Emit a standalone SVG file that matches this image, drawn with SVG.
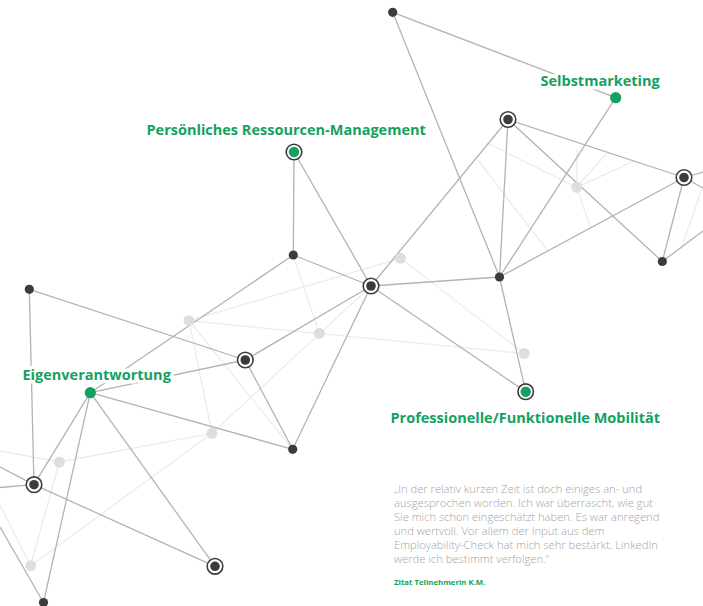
<svg xmlns="http://www.w3.org/2000/svg" width="703" height="606" viewBox="0 0 703 606">
<style>
.bg{fill:#ffffff}
.ln{stroke:#b3b3b3;stroke-width:1.3;fill:none}
.fl{stroke:#ececec;stroke-width:1.3;fill:none}
.dot{fill:#3c3c3c}
.ring{fill:#ffffff;stroke:#3c3c3c;stroke-width:1.6}
.fdot{fill:#dedede}
.gdot{fill:#16a060}
.lbl{font-family:"Open Sans","Noto Sans","Liberation Sans",sans-serif;font-weight:700;font-size:14.5px;fill:#16a060;stroke:#ffffff;stroke-width:7;paint-order:stroke;stroke-linejoin:round}
.q{font-family:"Open Sans","Noto Sans","Liberation Sans",sans-serif;font-weight:300;font-size:11.2px;fill:#a4a4a4}
.src{font-family:"Open Sans","Noto Sans","Liberation Sans",sans-serif;font-weight:700;font-size:7.8px;fill:#16a060}
</style>
<rect class="bg" x="0" y="0" width="703" height="606"/>
<g id="faint-connectors">
<line class="fl" x1="189" y1="320.7" x2="524.3" y2="353.5"/>
<line class="fl" x1="189" y1="320.7" x2="400.5" y2="258.3"/>
<line class="fl" x1="189" y1="320.7" x2="212" y2="433.3"/>
<line class="fl" x1="189" y1="320.7" x2="292.7" y2="449.3"/>
<line class="fl" x1="293.3" y1="255" x2="319.3" y2="333.3"/>
<line class="fl" x1="371" y1="286" x2="212" y2="433.3"/>
<line class="fl" x1="400.5" y1="258.3" x2="524.3" y2="353.5"/>
<line class="fl" x1="212" y1="433.3" x2="59.3" y2="462"/>
<line class="fl" x1="212" y1="433.3" x2="30.7" y2="565.7"/>
<line class="fl" x1="59.3" y1="462" x2="30.7" y2="565.7"/>
<line class="fl" x1="0" y1="451" x2="59.3" y2="462"/>
<line class="fl" x1="0" y1="505" x2="30.7" y2="565.7"/>
<line class="fl" x1="487" y1="143" x2="576.7" y2="187.3"/>
<line class="fl" x1="577" y1="150" x2="576.7" y2="187.3"/>
<line class="fl" x1="607" y1="153" x2="576.7" y2="187.3"/>
<line class="fl" x1="634" y1="161" x2="576.7" y2="187.3"/>
<line class="fl" x1="590" y1="227" x2="576.7" y2="187.3"/>
<line class="fl" x1="478" y1="160" x2="547" y2="250"/>
<line class="fl" x1="703" y1="186" x2="681" y2="249"/>
</g>
<g id="connectors">
<line class="ln" x1="392.7" y1="12.3" x2="499.5" y2="277"/>
<line class="ln" x1="392.7" y1="12.3" x2="615.7" y2="97.7"/>
<line class="ln" x1="508" y1="119.5" x2="499.5" y2="277"/>
<line class="ln" x1="508" y1="119.5" x2="371" y2="286"/>
<line class="ln" x1="508" y1="119.5" x2="684" y2="177.5"/>
<line class="ln" x1="508" y1="119.5" x2="662.3" y2="261.5"/>
<line class="ln" x1="615.7" y1="97.7" x2="499.5" y2="277"/>
<line class="ln" x1="499.5" y1="277" x2="684" y2="177.5"/>
<line class="ln" x1="684" y1="177.5" x2="662.3" y2="261.5"/>
<line class="ln" x1="684" y1="177.5" x2="703" y2="172"/>
<line class="ln" x1="684" y1="177.5" x2="703" y2="188"/>
<line class="ln" x1="662.3" y1="261.5" x2="703" y2="231"/>
<line class="ln" x1="499.5" y1="277" x2="371" y2="286"/>
<line class="ln" x1="499.5" y1="277" x2="525.7" y2="391.7"/>
<line class="ln" x1="371" y1="286" x2="525.7" y2="391.7"/>
<line class="ln" x1="294" y1="152" x2="293.3" y2="255"/>
<line class="ln" x1="294" y1="152" x2="371" y2="286"/>
<line class="ln" x1="293.3" y1="255" x2="371" y2="286"/>
<line class="ln" x1="293.3" y1="255" x2="90.3" y2="392.7"/>
<line class="ln" x1="371" y1="286" x2="245.3" y2="360"/>
<line class="ln" x1="371" y1="286" x2="292.7" y2="449.3"/>
<line class="ln" x1="29.3" y1="289.3" x2="245.3" y2="360"/>
<line class="ln" x1="29.3" y1="289.3" x2="34" y2="484.7"/>
<line class="ln" x1="245.3" y1="360" x2="90.3" y2="392.7"/>
<line class="ln" x1="245.3" y1="360" x2="292.7" y2="449.3"/>
<line class="ln" x1="90.3" y1="392.7" x2="292.7" y2="449.3"/>
<line class="ln" x1="90.3" y1="392.7" x2="34" y2="484.7"/>
<line class="ln" x1="90.3" y1="392.7" x2="215" y2="566.3"/>
<line class="ln" x1="90.3" y1="392.7" x2="43.5" y2="602.5"/>
<line class="ln" x1="34" y1="484.7" x2="215" y2="566.3"/>
<line class="ln" x1="0" y1="467" x2="34" y2="484.7"/>
<line class="ln" x1="0" y1="487.5" x2="34" y2="484.7"/>
<line class="ln" x1="0" y1="527" x2="43.5" y2="602.5"/>
</g>
<g id="faint-nodes">
<circle class="fdot" cx="189" cy="320.7" r="5.5"/>
<circle class="fdot" cx="319.3" cy="333.3" r="5.5"/>
<circle class="fdot" cx="400.5" cy="258.3" r="5.5"/>
<circle class="fdot" cx="212" cy="433.3" r="5.5"/>
<circle class="fdot" cx="524.3" cy="353.5" r="5.5"/>
<circle class="fdot" cx="576.7" cy="187.3" r="5.5"/>
<circle class="fdot" cx="59.3" cy="462" r="5.5"/>
<circle class="fdot" cx="30.7" cy="565.7" r="5.5"/>
</g>
<g id="node-a"><circle class="dot" cx="392.7" cy="12.3" r="4.6"/></g>
<g id="node-selbstmarketing"><circle class="gdot" cx="615.7" cy="97.7" r="5.6"/></g>
<g id="node-c"><circle class="ring" cx="508" cy="119.5" r="7.8"/><circle class="dot" cx="508" cy="119.5" r="4.8"/></g>
<g id="node-d"><circle class="ring" cx="684" cy="177.5" r="7.8"/><circle class="dot" cx="684" cy="177.5" r="4.8"/></g>
<g id="node-e"><circle class="dot" cx="662.3" cy="261.5" r="4.6"/></g>
<g id="node-f"><circle class="dot" cx="499.5" cy="277" r="4.6"/></g>
<g id="node-g"><circle class="ring" cx="371" cy="286" r="7.8"/><circle class="dot" cx="371" cy="286" r="4.8"/></g>
<g id="node-persoenliches"><circle class="ring" cx="294" cy="152" r="7.8"/><circle class="gdot" cx="294" cy="152" r="5.2"/></g>
<g id="node-i"><circle class="dot" cx="293.3" cy="255" r="4.6"/></g>
<g id="node-j"><circle class="dot" cx="29.3" cy="289.3" r="4.6"/></g>
<g id="node-k"><circle class="ring" cx="245.3" cy="360" r="7.8"/><circle class="dot" cx="245.3" cy="360" r="4.8"/></g>
<g id="node-eigenverantwortung"><circle class="gdot" cx="90.3" cy="392.7" r="5.6"/></g>
<g id="node-m"><circle class="dot" cx="292.7" cy="449.3" r="4.6"/></g>
<g id="node-n"><circle class="ring" cx="34" cy="484.7" r="7.8"/><circle class="dot" cx="34" cy="484.7" r="4.8"/></g>
<g id="node-o"><circle class="ring" cx="215" cy="566.3" r="7.8"/><circle class="dot" cx="215" cy="566.3" r="4.8"/></g>
<g id="node-p"><circle class="dot" cx="43.5" cy="602.5" r="4.6"/></g>
<g id="node-mobilitaet"><circle class="ring" cx="525.7" cy="391.7" r="7.8"/><circle class="gdot" cx="525.7" cy="391.7" r="5.2"/></g>
<g id="labels">
<text class="lbl" x="540.5" y="85.5">Selbstmarketing</text>
<text class="lbl" x="146.5" y="134.5">Persönliches Ressourcen-Management</text>
<text class="lbl" x="22.5" y="379.5">Eigenverantwortung</text>
<text class="lbl" x="390.5" y="422.5">Professionelle/Funktionelle Mobilität</text>
</g>
<g id="quote">
<text class="q" x="394" y="492.7">„In der relativ kurzen Zeit ist doch einiges an- und</text>
<text class="q" x="394" y="506.7">ausgesprochen worden. Ich war überrascht, wie gut</text>
<text class="q" x="394" y="520.7">Sie mich schon eingeschätzt haben. Es war anregend</text>
<text class="q" x="394" y="534.7">und wertvoll. Vor allem der Input aus dem</text>
<text class="q" x="394" y="548.7">Employability-Check hat mich sehr bestärkt. LinkedIn</text>
<text class="q" x="394" y="562.7">werde ich bestimmt verfolgen.“</text>
<text class="src" x="394" y="584.5">Zitat Teilnehmerin K.M.</text>
</g>
</svg>
